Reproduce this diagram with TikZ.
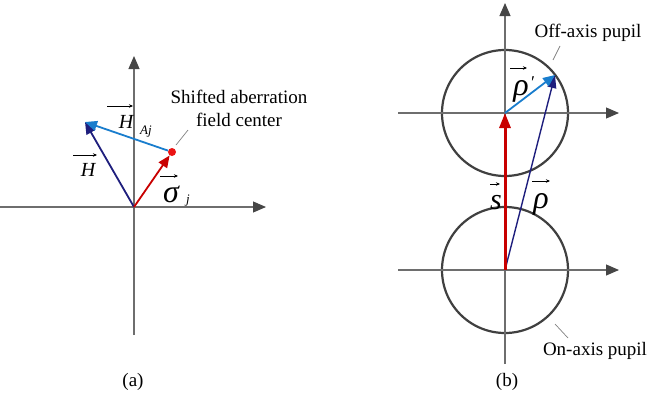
\documentclass[tikz,border=0pt]{standalone}
\usepackage{fontspec}
\setmainfont{Liberation Serif}
\usetikzlibrary{arrows.meta}
\definecolor{axisgray}{RGB}{110,110,110}
\definecolor{tipgray}{RGB}{70,70,70}
\definecolor{navy}{RGB}{30,30,125}
\definecolor{lblue}{RGB}{25,125,205}
\definecolor{vred}{RGB}{200,0,0}
\definecolor{dotred}{RGB}{235,20,20}
\definecolor{circgray}{RGB}{64,64,64}
\begin{document}
\begin{tikzpicture}[x=1pt,y=-1pt,
  axisline/.style={draw=axisgray,line width=1.1pt,-{Triangle[length=13pt,width=11pt,fill=tipgray,color=tipgray]}},
  axisplain/.style={draw=axisgray,line width=1.1pt},
  vecnavy/.style={draw=navy,line width=1.8pt,-{Triangle[length=12pt,width=10pt]}},
  vecnavythin/.style={draw=navy,line width=1.4pt,-{Triangle[length=13pt,width=9pt]}},
  veclblue/.style={draw=lblue,line width=1.8pt,-{Triangle[length=12pt,width=10pt]}},
  vecred/.style={draw=vred,line width=1.8pt,-{Triangle[length=12pt,width=10pt]}},
  vecredthick/.style={draw=vred,line width=3pt,-{Triangle[length=15pt,width=11pt]}},
  pupil/.style={draw=circgray,line width=2.2pt},
  leader/.style={draw=gray,line width=0.7pt},
  overarrow/.style={draw=black,line width=0.7pt,-{Stealth[length=4pt,width=3.5pt]}},
  lbl/.style={inner sep=0pt,font=\fontsize{19}{23}\selectfont},
  mathlbl/.style={inner sep=0pt,font=\fontsize{20}{24}\selectfont\itshape},
  greeklbl/.style={inner sep=0pt,font=\fontsize{32}{34}\selectfont\itshape},
  slbl/.style={inner sep=0pt,font=\fontsize{30}{32}\selectfont\itshape},
  sublbl/.style={inner sep=0pt,font=\fontsize{13}{15}\selectfont\itshape},
  primelbl/.style={inner sep=0pt,font=\fontsize{18}{20}\selectfont},
  reddot/.style={circle,fill=dotred,inner sep=0pt,minimum size=8pt}
]
\useasboundingbox (0,0) rectangle (664,407);

% ---------------- panel (a) ----------------
\coordinate (O1) at (134,207);
\coordinate (ax0) at (0,207);
\coordinate (ax1) at (266,207);
\coordinate (ay0) at (134,335);
\coordinate (ay1) at (134,56);
\draw[axisline] (ax0) -- (ax1);
\draw[axisline] (ay0) -- (ay1);

\coordinate (Htip) at (85,122);
\node[reddot] (C) at (172,152) {};
\draw[vecnavy] (O1) -- (Htip);
\draw[vecred] (O1) -- (C);
\draw[veclblue] (C) -- (Htip);

% labels (a)
\node[mathlbl] (H1) at (88,170) {H};
\draw[overarrow] (73,155) -- (97,155);
\node[mathlbl] (H2) at (126,122) {H};
\node[sublbl] (Aj) at (146,132) {Aj};
\draw[overarrow] (107,106) -- (133,106);
\node[greeklbl] (sig) at (171,194) {σ};
\node[sublbl] (jj) at (188,201) {j};
\draw[overarrow] (160,176) -- (178,176);

\node[lbl,align=center] (shift) at (239,108) {Shifted aberration\\field center};
\coordinate (la0) at (176,145);
\coordinate (la1) at (188,130);
\draw[leader] (la0) -- (la1);

\node[lbl] (capa) at (133,382) {(a)};

% ---------------- panel (b) ----------------
\coordinate (U) at (505,113);
\coordinate (L) at (505,270);
\coordinate (P) at (555,75);

\draw[pupil] (U) circle[radius=63];
\draw[pupil] (L) circle[radius=63];

\coordinate (ux0) at (398,113);
\coordinate (ux1) at (619,113);
\coordinate (uy0) at (505,200);
\coordinate (uy1) at (505,3);
\coordinate (lx0) at (398,270);
\coordinate (lx1) at (619,270);
\coordinate (ly0) at (505,364);
\draw[axisline] (ux0) -- (ux1);
\draw[axisline] (uy0) -- (uy1);
\draw[axisline] (lx0) -- (lx1);
\draw[axisplain] (ly0) -- (L);

\draw[vecnavythin] (L) -- (P);
\draw[vecredthick] (L) -- (U);
\draw[veclblue] (U) -- (P);

% labels (b)
\node[greeklbl] (rhop) at (521,91) {ρ};
\node[primelbl] (prime) at (533,83) {′};
\draw[overarrow] (510,68) -- (527,68);
\node[slbl] (svec) at (496,203) {s};
\draw[overarrow] (490,184) -- (500,184);
\node[greeklbl] (rho) at (541,204) {ρ};
\draw[overarrow] (532,181) -- (550,181);

\node[lbl] (offp) at (588,33) {Off-axis pupil};
\coordinate (lb0) at (553,60);
\coordinate (lb1) at (560,46);
\draw[leader] (lb0) -- (lb1);

\node[lbl] (onp) at (595,351) {On-axis pupil};
\coordinate (lc0) at (555,324);
\coordinate (lc1) at (568,338);
\draw[leader] (lc0) -- (lc1);

\node[lbl] (capb) at (507,382) {(b)};
\end{tikzpicture}
\end{document}
